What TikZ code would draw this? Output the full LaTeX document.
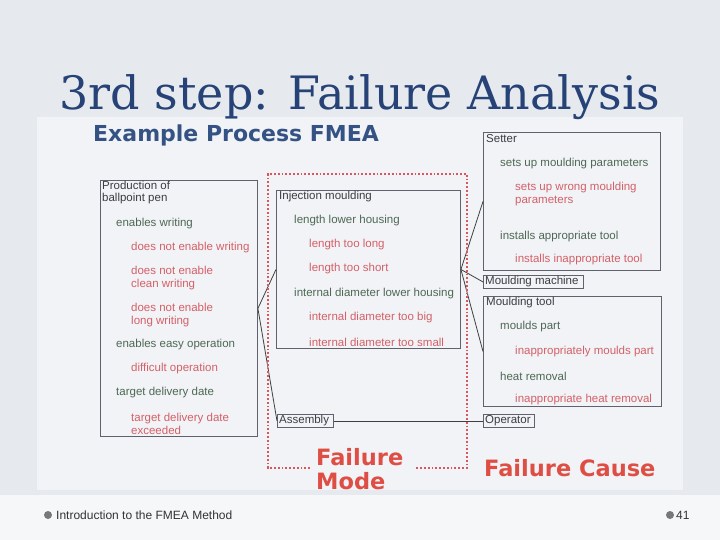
\documentclass[tikz,border=0pt]{standalone}
\usepackage{fontspec}
\setmainfont{Liberation Serif}
\setsansfont{Liberation Sans}
\newfontfamily\djv{DejaVu Sans}
\newfontfamily\djserif{DejaVu Serif}
\definecolor{slidebg}{RGB}{230,234,239}
\definecolor{imgbg}{RGB}{241,243,246}
\definecolor{titleblue}{RGB}{38,66,118}
\definecolor{hdrblue}{RGB}{52,82,132}
\definecolor{boxgray}{RGB}{95,98,108}
\definecolor{txtdark}{RGB}{60,60,66}
\definecolor{txtgreen}{RGB}{78,104,84}
\definecolor{txtred}{RGB}{212,96,104}
\definecolor{bigred}{RGB}{222,78,68}
\definecolor{footgray}{RGB}{120,120,120}
\tikzset{
  tx/.style={anchor=west, inner sep=0pt, font=\sffamily\fontsize{11.5}{12.5}\selectfont, align=left},
  td/.style={tx, text=txtdark},
  tg/.style={tx, text=txtgreen},
  tr/.style={tx, text=txtred},
  bx/.style={draw=boxgray, line width=0.9pt, anchor=north west, inner sep=0pt},
  conn/.style={draw=black!75, line width=0.8pt},
  big/.style={anchor=west, inner sep=0pt, text=bigred, font=\djv\bfseries\fontsize{22.5}{24}\selectfont, align=left}
}
\begin{document}
\begin{tikzpicture}[x=1pt,y=-1pt]
\useasboundingbox (0,0) rectangle (720,540);
\fill[slidebg] (0,0) rectangle (720,540);
\fill[white!60!slidebg] (0,495) rectangle (720,540);
\fill[imgbg] (37,117) rectangle (683,490);
% title
\node[anchor=base, inner sep=0pt, text=titleblue, font=\djserif\fontsize{46}{52}\selectfont] (title) at (360,110) {3rd step: Failure Analysis};
\node[anchor=west, inner sep=0pt, text=hdrblue, font=\djv\bfseries\fontsize{22}{26}\selectfont] (hdr) at (93,135) {Example Process FMEA};
% boxes
\node[bx, minimum width=157, minimum height=256] (lbox) at (100,180) {};
\node[bx, minimum width=184, minimum height=158] (inj) at (276,190) {};
\node[bx, minimum width=56, minimum height=13] (asm) at (277,414) {};
\node[bx, minimum width=177, minimum height=138] (setter) at (483,132) {};
\node[bx, minimum width=100, minimum height=13] (mm) at (483,275) {};
\node[bx, minimum width=178, minimum height=110] (mtool) at (483,296) {};
\node[bx, minimum width=51, minimum height=13] (op) at (483,414) {};
% left texts
\node[td] (l1) at (102,192.5) {Production of\\ballpoint pen};
\node[tg] (l2) at (116,224) {enables writing};
\node[tr] (l3) at (131,248) {does not enable writing};
\node[tr] (l4) at (131,278) {does not enable\\clean writing};
\node[tr] (l5) at (131,315) {does not enable\\long writing};
\node[tg] (l6) at (116,345) {enables easy operation};
\node[tg] (l7) at (116,393) {target delivery date};
\node[tr] (l8) at (131,369) {difficult operation};
\node[tr] (l9) at (131,424) {target delivery date\\exceeded};
% middle texts
\node[td] (m1) at (279,197) {Injection moulding};
\node[tg] (m2) at (294,221) {length lower housing};
\node[tr] (m3) at (309,245) {length too long};
\node[tr] (m4) at (309,269) {length too short};
\node[tg] (m5) at (294,294) {internal diameter lower housing};
\node[tr] (m6) at (309,318) {internal diameter too big};
\node[tr] (m7) at (309,342) {internal diameter too small};
\node[td] (m8) at (asm.west) [xshift=2pt] {Assembly};
% right texts
\node[td] (r1) at (486,139) {Setter};
\node[tg] (r2) at (500,164) {sets up moulding parameters};
\node[tr] (r3) at (515,194) {sets up wrong moulding\\parameters};
\node[tg] (r4) at (500,237) {installs appropriate tool};
\node[tr] (r5) at (515,260) {installs inappropriate tool};
\node[td] (r6) at (mm.west) [xshift=2pt] {Moulding machine};
\node[td] (r7) at (486,303) {Moulding tool};
\node[tg] (r8) at (500,327) {moulds part};
\node[tr] (r9) at (515,352) {inappropriately moulds part};
\node[tg] (r10) at (500,376) {heat removal};
\node[tr] (r11) at (515,400) {inappropriate heat removal};
\node[td] (r12) at (op.west) [xshift=2pt] {Operator};
% connectors
\draw[conn] (lbox.east) -- (inj.west);
\draw[conn] (lbox.east) -- (asm.west);
\draw[conn] (inj.east) -- (setter.west);
\draw[conn] (inj.east) -- (mm.west);
\draw[conn] (inj.east) -- (mtool.west);
\draw[conn] (asm.east) -- (op.west);
% red dotted frame
\draw[draw=txtred!90!red, line width=1.8pt, dotted] (310,468) -- (268,468) -- (268,174) -- (467,174) -- (467,468) -- (415,468);
\node[big] (fm) at (316,469) {Failure\\Mode};
\node[big] (fc) at (484,468) {Failure Cause};
% footer
\fill[footgray] (48,515) circle (4);
\node[anchor=west, inner sep=0pt, text=black!80, font=\sffamily\fontsize{12}{13}\selectfont] (foot) at (56,515) {Introduction to the FMEA Method};
\fill[footgray] (670,515) circle (4);
\node[anchor=west, inner sep=0pt, text=black!80, font=\sffamily\fontsize{12}{13}\selectfont] (pg) at (676,515) {41};
\end{tikzpicture}
\end{document}
